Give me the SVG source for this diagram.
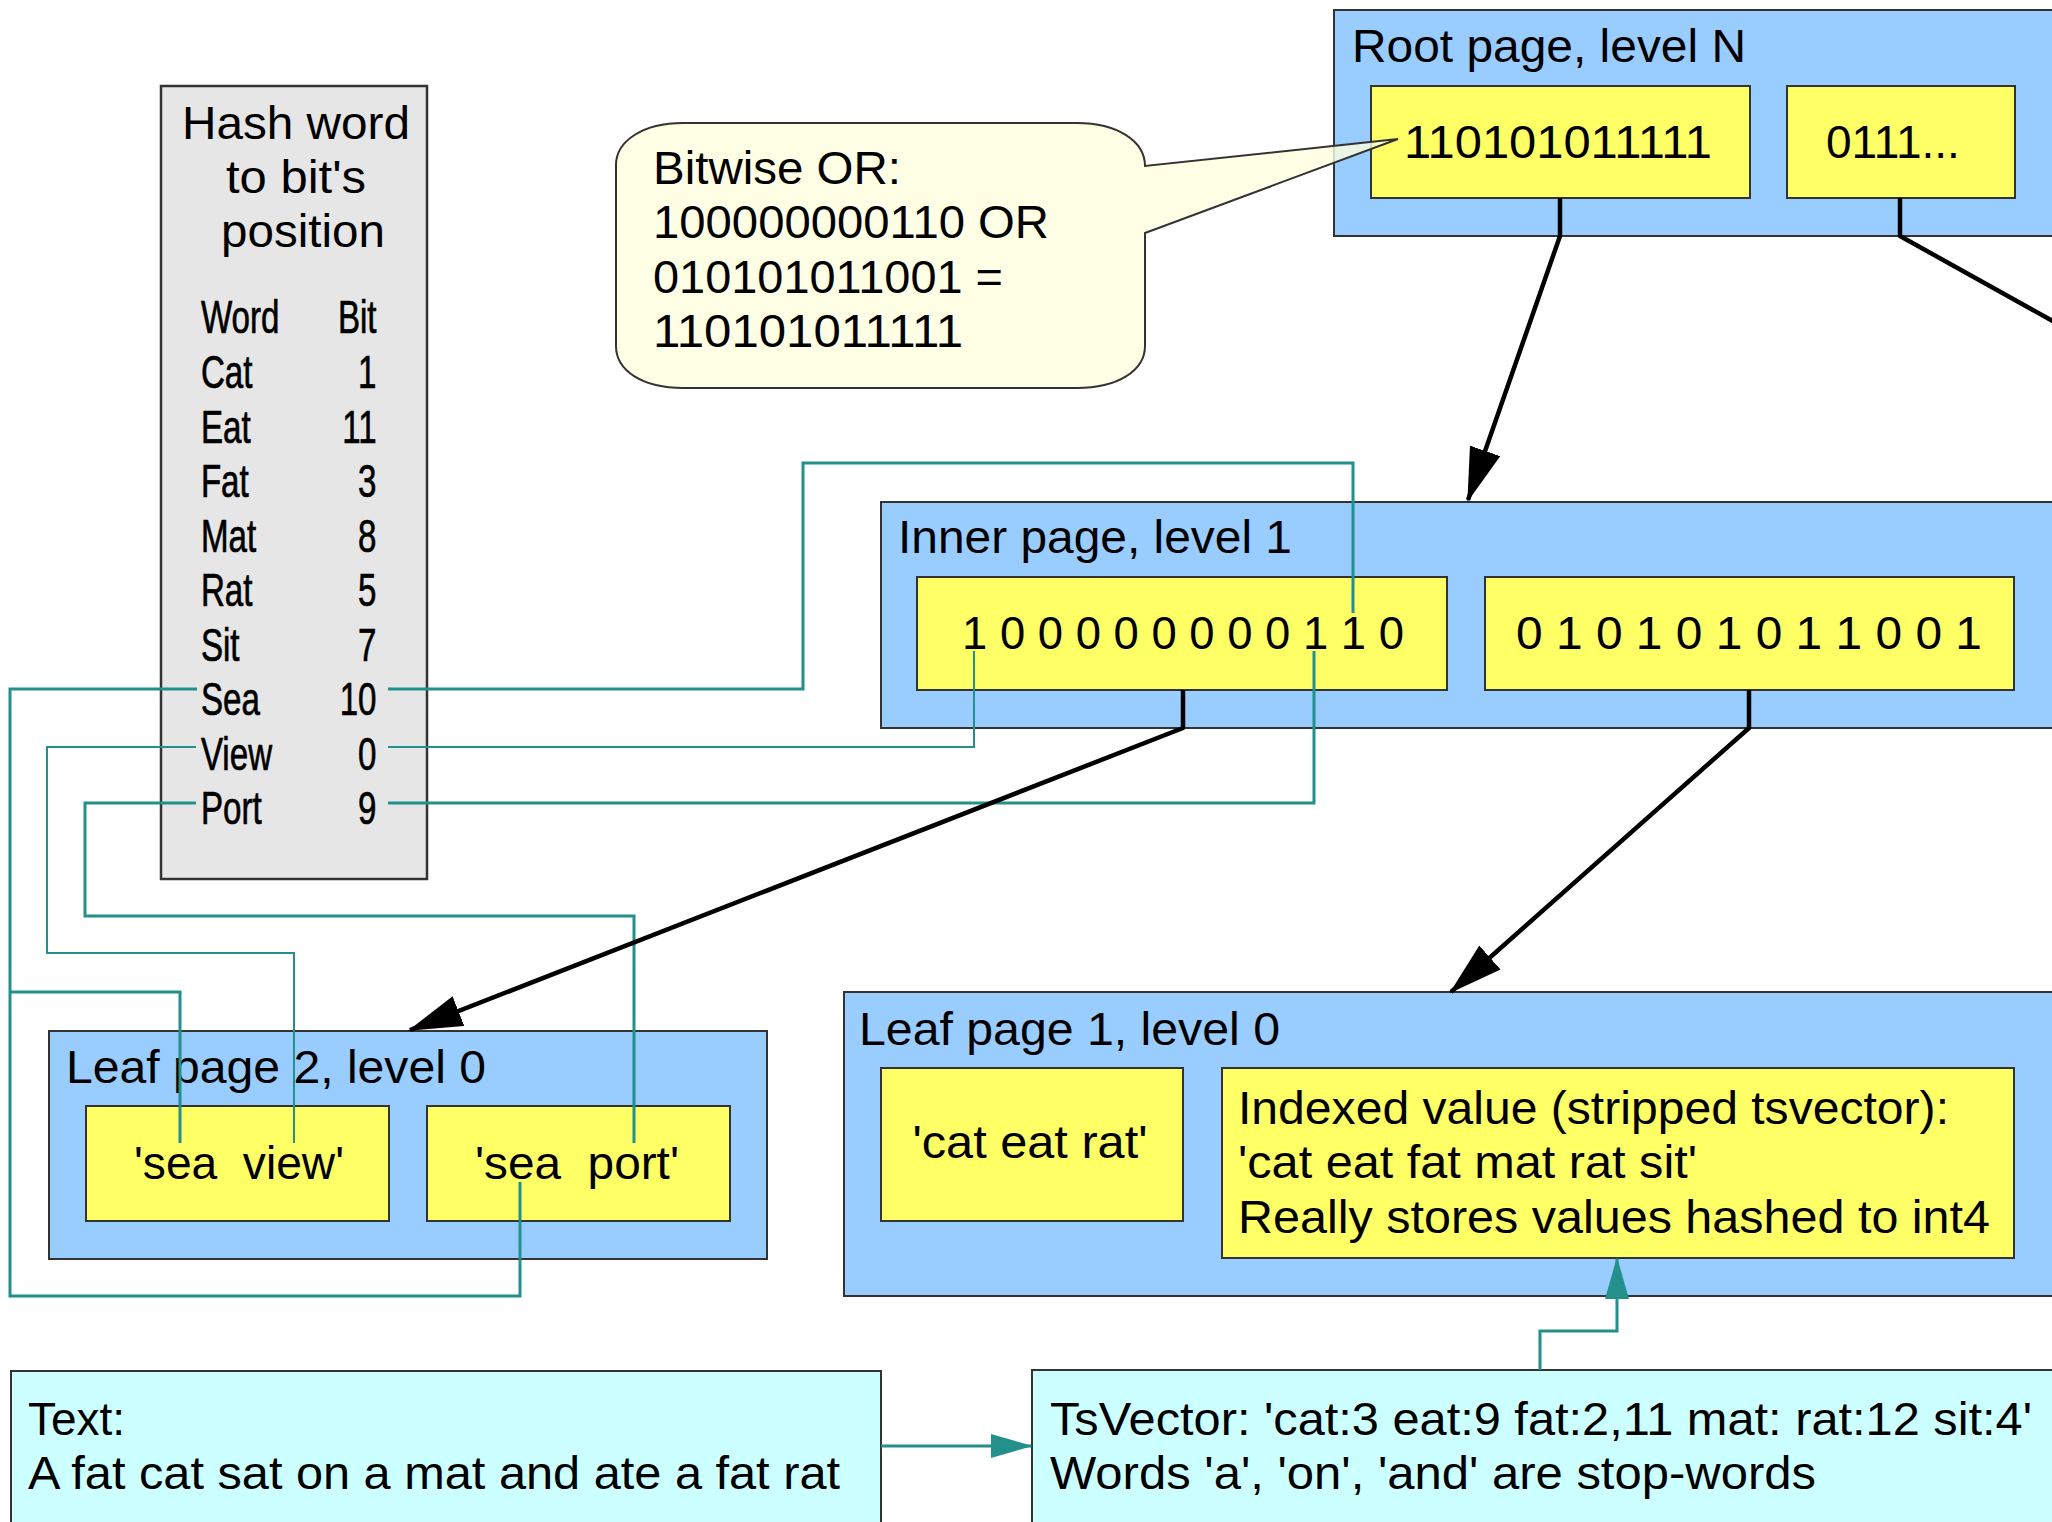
<svg xmlns="http://www.w3.org/2000/svg" width="2052" height="1522" viewBox="0 0 2052 1522">
<style>
  text { font-family: "Liberation Sans", Arial, sans-serif; font-size: 46px; fill: #000; }
  .page { fill: #99CCFF; stroke: #333; stroke-width: 2; }
  .item { fill: #FFFF66; stroke: #333; stroke-width: 2; }
  .cyan { fill: #CCFFFF; stroke: #333; stroke-width: 2; }
  .hash { fill: #E6E6E6; stroke: #333; stroke-width: 2.5; }
  .tbl text { stroke: #000; stroke-width: 0.7; }
  .teal { fill: none; stroke: #23908C; stroke-width: 3; }
  .teal-thin { fill: none; stroke: #23908C; stroke-width: 2; }
  .black { fill: none; stroke: #000; stroke-width: 4.5; stroke-linejoin: round; }
  .mid { text-anchor: middle; }
  .end { text-anchor: end; }
</style>
<defs>
  <marker id="blackArrow" markerUnits="userSpaceOnUse" markerWidth="54" markerHeight="32" refX="52" refY="16" orient="auto">
    <path d="M0,0 L54,16 L0,32 Z" fill="#000"/>
  </marker>
  <marker id="tealArrow" markerUnits="userSpaceOnUse" markerWidth="42" markerHeight="24" refX="40" refY="12" orient="auto">
    <path d="M0,0 L42,12 L0,24 Z" fill="#23908C"/>
  </marker>
</defs>
<rect width="2052" height="1522" fill="#fff"/>

<g id="hash-table">
  <rect class="hash" x="161" y="86" width="266" height="793"/>
  <text x="182" y="139" textLength="228" lengthAdjust="spacingAndGlyphs">Hash word</text>
  <text x="226" y="193" textLength="140" lengthAdjust="spacingAndGlyphs">to bit's</text>
  <text x="221" y="247" textLength="164" lengthAdjust="spacingAndGlyphs">position</text>
  <g class="tbl" transform="scale(0.72 1)">
    <text x="279" y="333">Word</text><text class="end" x="523" y="333">Bit</text>
    <text x="279" y="388">Cat</text><text class="end" x="523" y="388">1</text>
    <text x="279" y="443">Eat</text><text class="end" x="523" y="443">11</text>
    <text x="279" y="497">Fat</text><text class="end" x="523" y="497">3</text>
    <text x="279" y="552">Mat</text><text class="end" x="523" y="552">8</text>
    <text x="279" y="606">Rat</text><text class="end" x="523" y="606">5</text>
    <text x="279" y="661">Sit</text><text class="end" x="523" y="661">7</text>
    <text x="279" y="715">Sea</text><text class="end" x="523" y="715">10</text>
    <text x="279" y="770">View</text><text class="end" x="523" y="770">0</text>
    <text x="279" y="824">Port</text><text class="end" x="523" y="824">9</text>
  </g>
</g>

<g id="root-page">
  <rect class="page" x="1334" y="10" width="730" height="226"/>
  <text x="1352" y="62" textLength="394" lengthAdjust="spacingAndGlyphs">Root page, level N</text>
  <g id="root-item-1">
    <rect class="item" x="1371" y="86" width="379" height="112"/>
    <text x="1404" y="158" textLength="308" lengthAdjust="spacingAndGlyphs">110101011111</text>
  </g>
  <g id="root-item-2">
    <rect class="item" x="1787" y="86" width="228" height="112"/>
    <text x="1826" y="158">0111...</text>
  </g>
</g>

<g id="inner-page">
  <rect class="page" x="881" y="502" width="1183" height="226"/>
  <text x="898" y="553" textLength="394" lengthAdjust="spacingAndGlyphs">Inner page, level 1</text>
  <g id="inner-item-1">
    <rect class="item" x="917" y="577" width="530" height="113"/>
    <text x="962" y="649" textLength="442" lengthAdjust="spacingAndGlyphs">1 0 0 0 0 0 0 0 0 1 1 0</text>
  </g>
  <g id="inner-item-2">
    <rect class="item" x="1485" y="577" width="529" height="113"/>
    <text x="1516" y="649" textLength="466" lengthAdjust="spacingAndGlyphs">0 1 0 1 0 1 0 1 1 0 0 1</text>
  </g>
</g>

<g id="leaf-page-2">
  <rect class="page" x="49" y="1031" width="718" height="228"/>
  <text x="66" y="1083" textLength="420" lengthAdjust="spacingAndGlyphs">Leaf page 2, level 0</text>
  <g id="leaf2-sea-view">
    <rect class="item" x="86" y="1106" width="303" height="115"/>
    <text class="mid" x="239" y="1179" xml:space="preserve" textLength="210" lengthAdjust="spacingAndGlyphs">'sea  view'</text>
  </g>
  <g id="leaf2-sea-port">
    <rect class="item" x="427" y="1106" width="303" height="115"/>
    <text class="mid" x="577" y="1179" xml:space="preserve" textLength="204" lengthAdjust="spacingAndGlyphs">'sea  port'</text>
  </g>
</g>

<g id="leaf-page-1">
  <rect class="page" x="844" y="992" width="1220" height="304"/>
  <text x="859" y="1045" textLength="421" lengthAdjust="spacingAndGlyphs">Leaf page 1, level 0</text>
  <g id="leaf1-cat-eat-rat">
    <rect class="item" x="881" y="1068" width="302" height="153"/>
    <text class="mid" x="1030" y="1158" textLength="235" lengthAdjust="spacingAndGlyphs">'cat eat rat'</text>
  </g>
  <g id="leaf1-indexed">
    <rect class="item" x="1222" y="1068" width="792" height="190"/>
    <text x="1238" y="1124" textLength="711" lengthAdjust="spacingAndGlyphs">Indexed value (stripped tsvector):</text>
    <text x="1238" y="1178" textLength="459" lengthAdjust="spacingAndGlyphs">'cat eat fat mat rat sit'</text>
    <text x="1238" y="1233" textLength="752" lengthAdjust="spacingAndGlyphs">Really stores values hashed to int4</text>
  </g>
</g>

<g id="text-box">
  <rect class="cyan" x="11" y="1371" width="870" height="170"/>
  <text x="28" y="1435">Text:</text>
  <text x="28" y="1489" textLength="812" lengthAdjust="spacingAndGlyphs">A fat cat sat on a mat and ate a fat rat</text>
</g>

<g id="tsvector-box">
  <rect class="cyan" x="1032" y="1370" width="1040" height="170"/>
  <text x="1050" y="1435" textLength="982" lengthAdjust="spacingAndGlyphs">TsVector: 'cat:3 eat:9 fat:2,11 mat: rat:12 sit:4'</text>
  <text x="1050" y="1489" textLength="766" lengthAdjust="spacingAndGlyphs">Words 'a', 'on', 'and' are stop-words</text>
</g>

<g id="bitwise-callout">
  <path d="M683,123 H1077 C1117,123 1145,141 1145,166 L1398,139 L1145,233 V346 C1145,371 1117,388 1077,388 H683 C643,388 616,371 616,346 V165 C616,141 643,123 683,123 Z" fill="#FFFFE0" fill-opacity="0.8" stroke="#333" stroke-width="2"/>
  <text x="653" y="184" textLength="248" lengthAdjust="spacingAndGlyphs">Bitwise OR:</text>
  <text x="653" y="238" textLength="396" lengthAdjust="spacingAndGlyphs">100000000110 OR</text>
  <text x="653" y="293" textLength="350" lengthAdjust="spacingAndGlyphs">010101011001 =</text>
  <text x="653" y="347" textLength="310" lengthAdjust="spacingAndGlyphs">110101011111</text>
</g>

<g id="connectors">
  <!-- Sea (bit 10) -->
  <path class="teal" d="M197,689 H10 V1296 H520 V1182"/>
  <path class="teal" d="M10,992 H180 V1143"/>
  <path class="teal" d="M388,689 H803 V463 H1353 V613"/>
  <!-- View (bit 0) -->
  <path class="teal-thin" d="M196,747 H47 V953 H294 V1143"/>
  <path class="teal-thin" d="M388,747 H974 V651"/>
  <!-- Port (bit 9) -->
  <path class="teal" d="M196,803 H85 V916 H634 V1143"/>
  <path class="teal" d="M388,803 H1314 V651"/>
  <!-- tree links -->
  <path class="black" d="M1560,198 V236 L1468,500" marker-end="url(#blackArrow)"/>
  <path class="black" d="M1900,198 V236 L2110,353"/>
  <path class="black" d="M1183,690 V728 L410,1030" marker-end="url(#blackArrow)"/>
  <path class="black" d="M1749,690 V728 L1451,992" marker-end="url(#blackArrow)"/>
  <!-- text -> tsvector -> indexed value -->
  <path class="teal" d="M881,1446 H1031" marker-end="url(#tealArrow)"/>
  <path class="teal" d="M1540,1370 V1331 H1617 V1259" marker-end="url(#tealArrow)"/>
</g>
</svg>
